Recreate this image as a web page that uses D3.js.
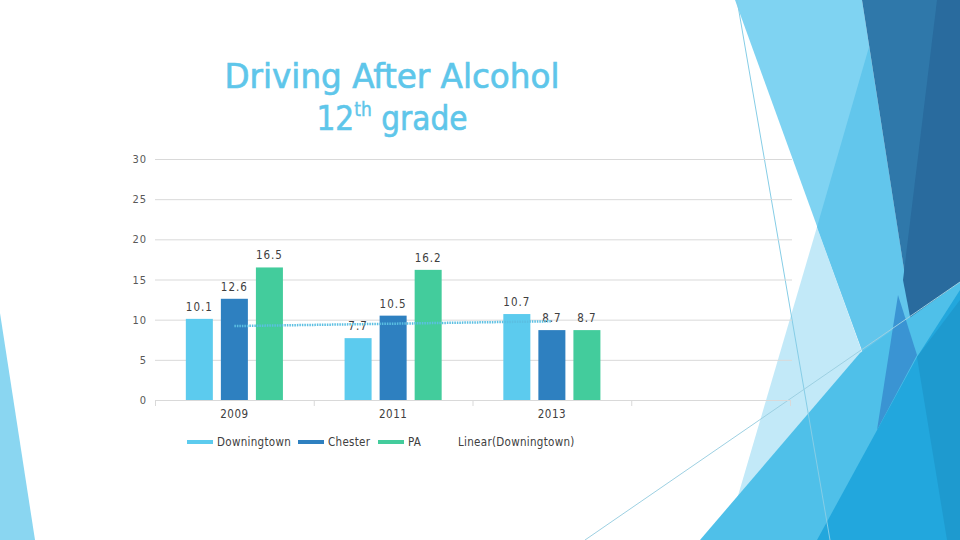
<!DOCTYPE html>
<html>
<head>
<meta charset="utf-8">
<script src="https://cdn.jsdelivr.net/npm/d3@7"></script>
<style>
  html, body { margin: 0; padding: 0; background: #fff; }
  svg { display: block; }
</style>
</head>
<body>
<svg id="chart" width="960" height="540"></svg>
<script>
// ---- data ----
const categories = ["2009", "2011", "2013", ""];
const seriesNames = ["Downingtown", "Chester", "PA"];
const downingtown = [10.1, 7.7, 10.7, null];
const chester = [12.6, 10.5, 8.7, null];
const pa = [16.5, 16.2, 8.7, null];
const yTicks = [0, 5, 10, 15, 20, 25, 30];
const trendName = "Linear(Downingtown)";
const titleLine1 = "Driving After Alcohol";

const seriesValues = [downingtown, chester, pa];
const colors = ["#5ccbee", "#2e80c0", "#43cc9c"];

const svg = d3.select("#chart");

// ---- background decoration (slide theme) ----
const deco = svg.append("g");
const poly = (pts, fill) => deco.append("polygon").attr("points", pts.map(p => p.join(",")).join(" ")).attr("fill", fill);
poly([[0,313],[35,540],[0,540]], "#8ad6f1");
poly([[817,227],[930,540],[725,540]], "#c2e9f8");
poly([[735,0],[862,0],[917,353],[863,353]], "#7fd3f2");
poly([[869,47],[917,353],[863,353],[817,227]], "#62c6ec");
poly([[862,0],[960,0],[960,283],[917,353]], "#2f78aa");
poly([[937,0],[960,0],[960,283],[917,353],[903,280]], "#296b9e");
poly([[700,540],[860,353],[960,282],[960,540]], "#4fc0e9");
poly([[877,430],[898,295],[917,355]], "#3a94d3");
poly([[817,540],[917,357],[960,290],[960,540]], "#22a7dd");
poly([[917,357],[947,540],[960,540],[960,300]], "#1e9acf");
deco.append("line").attr("x1",737).attr("y1",0).attr("x2",830).attr("y2",540).attr("stroke","#86cde6").attr("stroke-width",1);
deco.append("line").attr("x1",585).attr("y1",540).attr("x2",960).attr("y2",282).attr("stroke","#9dd0e2").attr("stroke-width",1);

// ---- title ----
const titleFont = "'DejaVu Sans Condensed', 'DejaVu Sans', sans-serif";
svg.append("text").attr("x", 392).attr("y", 88).attr("text-anchor", "middle")
  .attr("fill", "#5ec6ea").attr("stroke", "#5ec6ea").attr("stroke-width", 0.6)
  .style("font-family", titleFont)
  .style("font-size", "33px").attr("textLength", 335).attr("lengthAdjust", "spacingAndGlyphs").text(titleLine1);
const t2 = svg.append("text").attr("x", 392).attr("y", 130).attr("text-anchor", "middle")
  .attr("fill", "#5ec6ea").attr("stroke", "#5ec6ea").attr("stroke-width", 0.6)
  .style("font-family", titleFont).style("font-size", "33px");
t2.append("tspan").text("12");
t2.append("tspan").attr("dy", -14).style("font-size", "19px").attr("stroke-width", 0.4).text("th");
t2.append("tspan").attr("dy", 14).text(" grade");

// ---- scales ----
const x = d3.scaleBand().domain(categories).range([155, 790]).paddingInner(0).paddingOuter(0);
const x1 = d3.scaleBand().domain(seriesNames).range([0, x.bandwidth()]).paddingInner(0.229).paddingOuter(0.88);
const y = d3.scaleLinear().domain([0, 30]).range([400, 159]);

const fontFam = "'DejaVu Sans Condensed', 'DejaVu Sans', sans-serif";

// grid lines
svg.append("g").selectAll("line").data(yTicks.filter(d => d > 0)).join("line")
  .attr("x1", 155).attr("x2", 792).attr("y1", d => y(d) + 0.5).attr("y2", d => y(d) + 0.5)
  .attr("stroke", "#d9d9d9").attr("stroke-width", 1);

// y axis labels
const yAxis = svg.append("g").attr("transform", "translate(155,0)")
  .call(d3.axisLeft(y).tickValues(yTicks).tickSize(0).tickPadding(8));
yAxis.select(".domain").remove();
yAxis.selectAll("text").attr("fill", "#595959").style("font-family", fontFam).style("font-size", "11px").style("letter-spacing", "1px");

// x axis
const xAxis = svg.append("g").attr("transform", "translate(0,400.5)")
  .call(d3.axisBottom(x).tickSize(0).tickPadding(9));
xAxis.select(".domain").attr("stroke", "#d9d9d9").attr("d", "M155,0H790");
xAxis.selectAll("text").attr("fill", "#404040").style("font-family", fontFam).style("font-size", "11.5px").style("letter-spacing", "0.5px");
// category boundary ticks
svg.append("g").selectAll("line").data(categories.concat(["end"])).join("line")
  .attr("x1", (d, i) => 155 + i * x.step() + 0.5).attr("x2", (d, i) => 155 + i * x.step() + 0.5)
  .attr("y1", 400).attr("y2", 406).attr("stroke", "#d9d9d9");

// bars
const groups = svg.append("g").selectAll("g").data(categories).join("g")
  .attr("transform", d => `translate(${x(d)},0)`);
groups.selectAll("rect").data((d, i) => seriesNames.map((s, j) => ({ s, j, v: seriesValues[j][i] })).filter(e => e.v != null))
  .join("rect")
  .attr("x", e => x1(e.s)).attr("width", x1.bandwidth())
  .attr("y", e => y(e.v)).attr("height", e => y(0) - y(e.v))
  .attr("fill", e => colors[e.j]);

// trendline (linear fit of Downingtown)
const pts = downingtown.map((v, i) => ({ i: i + 1, v })).filter(p => p.v != null);
const n = pts.length;
const mx = d3.mean(pts, p => p.i), my = d3.mean(pts, p => p.v);
const slope = d3.sum(pts, p => (p.i - mx) * (p.v - my)) / d3.sum(pts, p => (p.i - mx) ** 2);
const intercept = my - slope * mx;
const tx = i => x(categories[i - 1]) + x.bandwidth() / 2;
svg.append("line")
  .attr("x1", tx(pts[0].i)).attr("y1", y(intercept + slope * pts[0].i))
  .attr("x2", tx(pts[n - 1].i)).attr("y2", y(intercept + slope * pts[n - 1].i))
  .attr("stroke", "#5bbfe2").attr("stroke-width", 2.5).attr("stroke-dasharray", "1.5,1");

// data labels
groups.selectAll("text.lbl").data((d, i) => seriesNames.map((s, j) => ({ s, j, v: seriesValues[j][i] })).filter(e => e.v != null))
  .join("text").attr("class", "lbl")
  .attr("x", e => x1(e.s) + x1.bandwidth() / 2).attr("y", e => y(e.v) - 8)
  .attr("text-anchor", "middle").attr("fill", "#404040")
  .style("font-family", fontFam).style("font-size", "11.5px").style("letter-spacing", "1px")
  .text(e => e.v.toFixed(1));

// legend
const legendItems = [
  { name: seriesNames[0], x: 187, color: colors[0] },
  { name: seriesNames[1], x: 298, color: colors[1] },
  { name: seriesNames[2], x: 378, color: colors[2] },
  { name: trendName, x: 428, color: null }
];
const lg = svg.append("g").selectAll("g").data(legendItems).join("g")
  .attr("transform", d => `translate(${d.x},442)`);
lg.filter(d => d.color).append("rect").attr("x", 0).attr("y", -2).attr("width", 26).attr("height", 4).attr("fill", d => d.color);
lg.append("text").attr("x", 30).attr("y", 0).attr("dy", "0.35em").attr("fill", "#404040")
  .style("font-family", fontFam).style("font-size", "11.5px").style("letter-spacing", "0.3px").text(d => d.name);
</script>
</body>
</html>
